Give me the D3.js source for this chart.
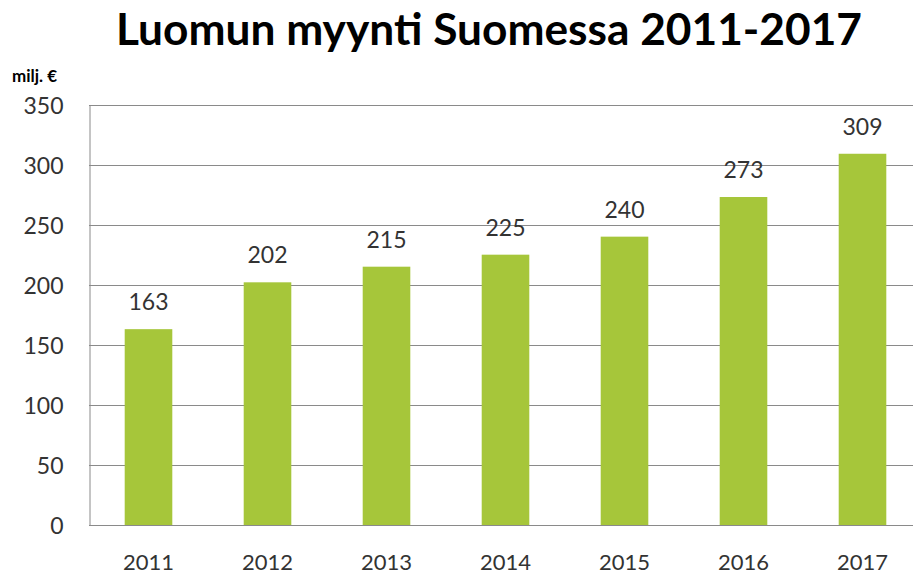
<!DOCTYPE html>
<html><head><meta charset="utf-8">
<script src="https://d3js.org/d3.v7.min.js"></script>
<style>body{margin:0;background:#fff}svg{display:block}</style>
</head><body><svg id="c" width="913" height="575"></svg>
<script>
const categories = ["2011","2012","2013","2014","2015","2016","2017"];
const values = [163,202,215,225,240,273,309];
const yTicks = [0,50,100,150,200,250,300,350];
const titleText = "Luomun myynti Suomessa 2011-2017";
const unitText = "milj. €";

const svg = d3.select("#c");
const font = "Lato, 'Open Sans', sans-serif";
const x = d3.scaleBand().domain(categories).range([89, 922]).paddingInner(0.6).paddingOuter(0.3);
const y = d3.scaleLinear().domain([0,350]).range([525, 104.5]);

svg.append("text").attr("x", 489).attr("y", 45).attr("text-anchor","middle")
  .attr("font-family", font).attr("font-weight","bold").attr("font-size", 44)
  .attr("textLength", 746).attr("lengthAdjust","spacingAndGlyphs")
  .attr("fill","#000").text(titleText);
svg.append("text").attr("x", 12).attr("y", 82)
  .attr("font-family", font).attr("font-weight","bold").attr("font-size", 17)
  .attr("fill","#000").text(unitText);

const grid = svg.append("g");
grid.selectAll("line").data(yTicks.filter(d=>d>0)).join("line")
  .attr("x1", 89).attr("x2", 913).attr("y1", d=>Math.round(y(d))+0.5).attr("y2", d=>Math.round(y(d))+0.5)
  .attr("stroke","#8a8a8a").attr("stroke-width",1);

svg.selectAll("rect.bar").data(values).join("rect").attr("class","bar")
  .attr("x",(d,i)=>x(categories[i])).attr("width", x.bandwidth())
  .attr("y", d=>y(d)).attr("height", d=>y(0)-y(d)).attr("fill","#a6c63a");

const yAxis = svg.append("g").attr("transform","translate(89.5,0)")
  .call(d3.axisLeft(y).tickValues(yTicks).tickSize(0).tickPadding(26));
yAxis.select(".domain").attr("stroke","#8a8a8a");
yAxis.selectAll("text").attr("font-family", font).attr("font-size", 23).attr("fill","#333").attr("dy","0.38em");

const xAxis = svg.append("g").attr("transform",`translate(0,${Math.round(y(0))+0.5})`)
  .call(d3.axisBottom(x).tickSize(0).tickPadding(0));
xAxis.select(".domain").attr("stroke","#8a8a8a").attr("d","M89,0H913");
xAxis.selectAll("text").attr("font-family", font).attr("font-size", 22).attr("fill","#333")
  .attr("dy", null).attr("y", 44);

svg.selectAll("text.val").data(values).join("text").attr("class","val")
  .attr("x",(d,i)=>x(categories[i])+x.bandwidth()/2).attr("y", d=>y(d)-19)
  .attr("text-anchor","middle").attr("font-family", font).attr("font-size", 23).attr("fill","#333")
  .text(d=>d);
</script></body></html>
